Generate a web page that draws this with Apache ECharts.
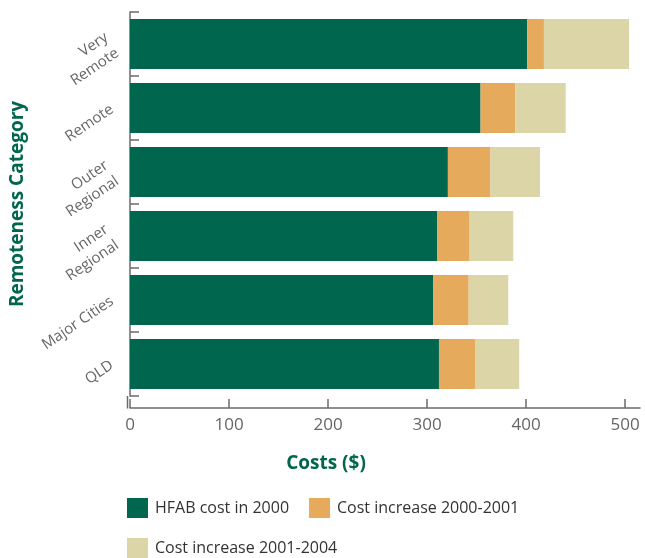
<!DOCTYPE html>
<html>
<head>
<meta charset="utf-8">
<script src="https://cdn.jsdelivr.net/npm/echarts@6/dist/echarts.min.js"></script>
<style>
  html, body { margin: 0; padding: 0; background: #fff; }
  #chart { width: 645px; height: 558px; }
</style>
</head>
<body>
<div id="chart"></div>
<script>
// Remoteness categories, top to bottom
const categories = ['Very\nRemote', 'Remote', 'Outer\nRegional', 'Inner\nRegional', 'Major Cities', 'QLD'];
// Healthy Food Access Basket cost in 2000 ($)
const cost2000 = [401, 354, 321, 310, 306, 312];
// Increase from 2000 to 2001 ($)
const increase2000_2001 = [17, 35, 43, 33, 36, 37];
// Increase from 2001 to 2004 ($)
const increase2001_2004 = [86, 51, 50, 44, 40, 44];
// Cost axis ticks
const costTicks = [0, 100, 200, 300, 400, 500];

const green = '#00664e';
const orange = '#e5aa5c';
const beige = '#dcd5a8';
const axisGrey = '#6b6b6b';

const chart = echarts.init(document.getElementById('chart'));
chart.setOption({
  animation: false,
  grid: { left: 127, right: 5, top: 12, bottom: 162, containLabel: false },
  xAxis: {
    type: 'value',
    min: 0,
    max: 515,
    offset: 12,
    name: 'Costs ($)',
    nameLocation: 'middle',
    nameGap: 46,
    nameTextStyle: { color: green, fontSize: 19, fontWeight: 'bold', fontFamily: 'Open Sans', padding: [0, 118, 0, 0] },
    splitLine: { show: false },
    axisLine: { show: true, lineStyle: { color: axisGrey, width: 1.5 } },
    axisTick: { show: true, inside: true, length: 9, customValues: costTicks, lineStyle: { color: axisGrey, width: 1.5 } },
    axisLabel: { customValues: costTicks, color: '#666', fontSize: 17, fontFamily: 'Open Sans', margin: 9 }
  },
  yAxis: {
    type: 'category',
    data: categories,
    inverse: true,
    name: 'Remoteness Category',
    nameLocation: 'middle',
    nameGap: 103,
    nameTextStyle: { color: green, fontSize: 19, fontWeight: 'bold', fontFamily: 'Open Sans' },
    axisLine: { show: true, lineStyle: { color: axisGrey, width: 1.5 } },
    axisTick: { show: true, inside: true, length: 9, lineStyle: { color: axisGrey, width: 1.5 } },
    axisLabel: { rotate: 34, color: '#666', fontSize: 15, fontFamily: 'Open Sans', margin: 18, lineHeight: 19 }
  },
  legend: {
    left: 127,
    top: 498,
    padding: 0,
    width: 440,
    itemWidth: 21,
    itemHeight: 20,
    itemGap: 20,
    icon: 'rect',
    textStyle: { color: '#333', fontSize: 16, fontFamily: 'Open Sans', padding: [0, 0, 0, 2] },
    data: ['HFAB cost in 2000', 'Cost increase 2000-2001', 'Cost increase 2001-2004']
  },
  series: [
    { name: 'HFAB cost in 2000', type: 'bar', stack: 'cost', data: cost2000, barWidth: 50, itemStyle: { color: green } },
    { name: 'Cost increase 2000-2001', type: 'bar', stack: 'cost', data: increase2000_2001, barWidth: 50, itemStyle: { color: orange } },
    { name: 'Cost increase 2001-2004', type: 'bar', stack: 'cost', data: increase2001_2004, barWidth: 50, itemStyle: { color: beige } }
  ],
  graphic: [
    // Vertical axis continues down to the offset cost axis
    { type: 'line', shape: { x1: 127.5, y1: 396, x2: 127.5, y2: 408.5 }, style: { stroke: axisGrey, lineWidth: 1.5 }, silent: true }
  ]
});
</script>
</body>
</html>
